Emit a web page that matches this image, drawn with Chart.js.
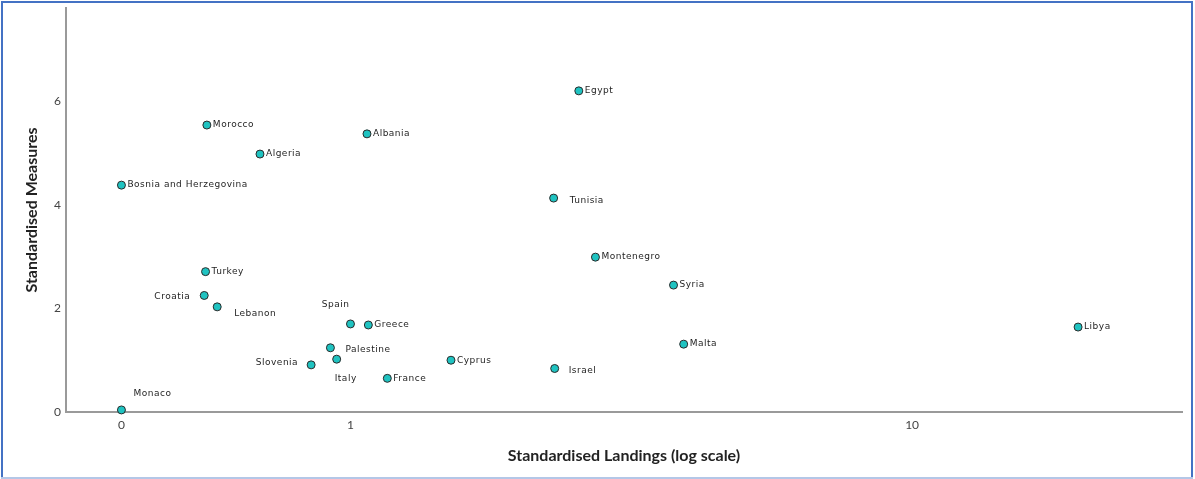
<!DOCTYPE html>
<html lang="en">
<head>
<meta charset="UTF-8">
<title>Standardised Measures vs Standardised Landings</title>
<script src="https://cdn.jsdelivr.net/npm/chart.js@4.4.0/dist/chart.umd.min.js"></script>
<style>
    html, body { margin: 0; padding: 0; background: #fff; }
    .wrap { position: relative; width: 1195px; height: 479px; }
</style>
</head>
<body>
<div class="wrap"><canvas id="scatter" width="1195" height="479"></canvas></div>
<script>
const countries = ['Egypt', 'Morocco', 'Albania', 'Algeria', 'Bosnia and Herzegovina', 'Tunisia',
    'Montenegro', 'Turkey', 'Syria', 'Croatia', 'Lebanon', 'Spain', 'Greece', 'Libya', 'Malta',
    'Palestine', 'Italy', 'Cyprus', 'Slovenia', 'Israel', 'France', 'Monaco'];
const landings = [2.55, 0.555, 1.07, 0.69, 0.391, 2.30, 2.73, 0.552, 3.76, 0.549, 0.579, 1.0, 1.076,
    19.75, 3.92, 0.921, 0.945, 1.51, 0.851, 2.31, 1.163, 0.391];
const measures = [6.20, 5.54, 5.37, 4.98, 4.38, 4.13, 2.99, 2.71, 2.45, 2.25, 2.03, 1.70, 1.68,
    1.64, 1.31, 1.24, 1.02, 1.00, 0.91, 0.84, 0.65, 0.04];

const xTickValues = [0.391, 1, 10];
const xTickLabels = ['0', '1', '10'];
const yTickValues = [0, 2, 4, 6];

// where each country name sits relative to its dot: [dx, dy, textAlign]
const labelPlacement = [
    [6, 0, 'left'], [6, 0, 'left'], [6, 0, 'left'], [6, 0, 'left'], [6, 0, 'left'],
    [16, 3, 'left'], [6, 0, 'left'], [6, 0, 'left'], [6, 0, 'left'], [-14, 1, 'right'],
    [17, 7, 'left'], [-1, -19, 'right'], [6, 0, 'left'], [6, 0, 'left'], [6, 0, 'left'],
    [15, 2, 'left'], [-2, 19, 'left'], [6, 0, 'left'], [-13, -2, 'right'], [14, 2, 'left'],
    [6, 0, 'left'], [12, -16, 'left']
];

const points = landings.map((x, i) => ({ x: x, y: measures[i] }));

const titleFont = { family: 'Lato', weight: 'bold', size: 16 };
const tickFont = { family: 'Lato', size: 12 };

// country names next to the dots
const pointLabels = {
    id: 'pointLabels',
    afterDatasetsDraw(chart) {
        const ctx = chart.ctx;
        const meta = chart.getDatasetMeta(0);
        ctx.save();
        ctx.font = '9px "DejaVu Sans"';
        ctx.letterSpacing = '0.5px';
        ctx.fillStyle = '#1e1e1e';
        ctx.textBaseline = 'middle';
        meta.data.forEach((pt, i) => {
            const [dx, dy, align] = labelPlacement[i];
            ctx.textAlign = align;
            ctx.fillText(countries[i], pt.x + dx, pt.y + dy);
        });
        ctx.restore();
    }
};

// blue frame round the whole chart
const frame = {
    id: 'frame',
    afterDraw(chart) {
        const ctx = chart.ctx;
        ctx.save();
        ctx.fillStyle = '#4472c4';
        ctx.fillRect(1, 1, 1192, 2);
        ctx.fillRect(1, 1, 2, 477);
        ctx.fillRect(1191, 1, 2, 477);
        ctx.fillStyle = '#b4c7e7';
        ctx.fillRect(1, 477, 1192, 2);
        ctx.restore();
    }
};

new Chart(document.getElementById('scatter'), {
    type: 'scatter',
    data: {
        datasets: [{
            data: points,
            pointRadius: 4,
            pointHoverRadius: 4,
            pointBackgroundColor: '#1fc3c1',
            pointBorderColor: '#2a2a2a',
            pointBorderWidth: 1,
            clip: false
        }]
    },
    options: {
        responsive: false,
        devicePixelRatio: 1,
        animation: false,
        events: [],
        layout: { padding: { left: 0, top: 8, right: 13, bottom: 0 } },
        plugins: {
            legend: { display: false },
            tooltip: { enabled: false }
        },
        scales: {
            x: {
                type: 'logarithmic',
                bounds: 'data',
                min: 0.3115,
                max: 30.24,
                afterBuildTicks: scale => {
                    scale.ticks = xTickValues.map(v => ({ value: v }));
                },
                afterFit: scale => {
                    scale.height = 67;
                    scale.paddingLeft = 0;
                    scale.paddingRight = 0;
                },
                ticks: {
                    autoSkip: false,
                    maxRotation: 0,
                    padding: 6,
                    font: tickFont,
                    color: '#444',
                    callback: (value, index) => xTickLabels[index]
                },
                grid: { display: false, drawTicks: false },
                border: { display: true, color: '#9a9a9a', width: 2 },
                title: {
                    display: true,
                    text: 'Standardised Landings (log scale)',
                    font: titleFont,
                    color: '#222',
                    padding: { top: 0, bottom: 14 }
                }
            },
            y: {
                min: 0,
                max: 7.8,
                afterBuildTicks: scale => {
                    scale.ticks = yTickValues.map(v => ({ value: v }));
                },
                afterFit: scale => {
                    scale.width = 66;
                    scale.paddingTop = 0;
                    scale.paddingBottom = 0;
                },
                ticks: {
                    padding: 5,
                    font: tickFont,
                    color: '#444',
                    callback: value => String(value)
                },
                grid: { display: false, drawTicks: false },
                border: { display: true, color: '#9a9a9a', width: 2 },
                title: {
                    display: true,
                    text: 'Standardised Measures',
                    font: titleFont,
                    color: '#222',
                    padding: { top: 22, bottom: 0 }
                }
            }
        }
    },
    plugins: [pointLabels, frame]
});
</script>
</body>
</html>
